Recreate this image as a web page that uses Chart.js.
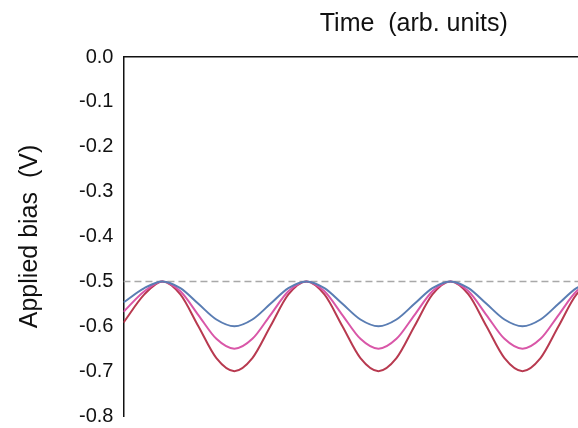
<!DOCTYPE html>
<html><head><meta charset="utf-8">
<script src="https://cdn.jsdelivr.net/npm/chart.js@4.4.1/dist/chart.umd.min.js"></script>
<style>
html,body{margin:0;padding:0;background:#fff;overflow:hidden;}
#wrap{width:578px;height:428px;overflow:hidden;position:relative;}
#box{width:704px;height:438px;position:absolute;left:0;top:0;}
</style></head>
<body>
<div id="wrap"><div id="box"><canvas id="c"></canvas></div></div>
<script>
// time (arb. units)
const times = [0, 0.145, 0.27, 0.395, 0.52, 0.645, 0.77, 0.895, 1.02, 1.145, 1.27, 1.395, 1.52, 1.645, 1.77, 1.895, 2.02, 2.145, 2.27, 2.395, 2.52, 2.645, 2.77, 2.895, 3.02, 3.145, 3.27, 3.395, 3.52, 3.645, 3.77, 3.895, 4.02, 4.145];
const blueBias = [-0.547, -0.515, -0.500, -0.515, -0.550, -0.585, -0.600, -0.585, -0.550, -0.515, -0.500, -0.515, -0.550, -0.585, -0.600, -0.585, -0.550, -0.515, -0.500, -0.515, -0.550, -0.585, -0.600, -0.585, -0.550, -0.515, -0.500, -0.515, -0.550, -0.585, -0.600, -0.585, -0.550, -0.515];
const pinkBias = [-0.568, -0.522, -0.500, -0.522, -0.575, -0.628, -0.650, -0.628, -0.575, -0.522, -0.500, -0.522, -0.575, -0.628, -0.650, -0.628, -0.575, -0.522, -0.500, -0.522, -0.575, -0.628, -0.650, -0.628, -0.575, -0.522, -0.500, -0.522, -0.575, -0.628, -0.650, -0.628, -0.575, -0.522];
const redBias = [-0.592, -0.529, -0.500, -0.529, -0.600, -0.671, -0.700, -0.671, -0.600, -0.529, -0.500, -0.529, -0.600, -0.671, -0.700, -0.671, -0.600, -0.529, -0.500, -0.529, -0.600, -0.671, -0.700, -0.671, -0.600, -0.529, -0.500, -0.529, -0.600, -0.671, -0.700, -0.671, -0.600, -0.529];
const referenceBias = [-0.5, -0.5];
const referenceTimes = [0, 4.03];
const yTicks = [0.0, -0.1, -0.2, -0.3, -0.4, -0.5, -0.6, -0.7, -0.8];

const toXY = (xs, ys) => xs.map((x, i) => ({x: x, y: ys[i]}));
const FONT = "'Liberation Sans', Arial, Helvetica, sans-serif";

new Chart(document.getElementById('c'), {
  type: 'line',
  data: {
    datasets: [
      {data: toXY(times, blueBias), borderColor: '#5a7db3', borderWidth: 2, order: 1},
      {data: toXY(times, pinkBias), borderColor: '#d957a8', borderWidth: 2, order: 2},
      {data: toXY(times, redBias), borderColor: '#b83a50', borderWidth: 2, order: 3},
      {data: toXY(referenceTimes, referenceBias), borderColor: '#a8a8a8', borderWidth: 1.5, borderDash: [7, 4], order: 4, tension: 0}
    ]
  },
  options: {
    responsive: true,
    maintainAspectRatio: false,
    animation: false,
    devicePixelRatio: 1,
    layout: {padding: {left: 15, right: 0, top: 9, bottom: 0}},
    elements: {point: {radius: 0}, line: {cubicInterpolationMode: 'monotone'}},
    plugins: {legend: {display: false}, tooltip: {enabled: false}},
    scales: {
      x: {
        type: 'linear', position: 'top', min: 0, max: 4.03,
        grid: {display: false, drawTicks: false},
        border: {display: true, color: '#111', width: 1.5},
        ticks: {display: false},
        title: {display: true, text: 'Time  (arb. units)', color: '#111', font: {family: FONT, size: 25}, padding: {top: 0, bottom: 18}}
      },
      y: {
        type: 'linear', min: -0.8, max: 0,
        afterBuildTicks: (s) => { s.ticks = yTicks.map(v => ({value: v})); },
        grid: {display: false, drawTicks: false},
        border: {display: true, color: '#111', width: 1.5},
        ticks: {color: '#111', padding: 10, font: {family: FONT, size: 20}, callback: (v) => Number(v).toFixed(1)},
        title: {display: true, text: 'Applied bias  (V)', color: '#111', font: {family: FONT, size: 25}, padding: {top: 0, bottom: 24}}
      }
    }
  }
});
</script>
</body></html>
